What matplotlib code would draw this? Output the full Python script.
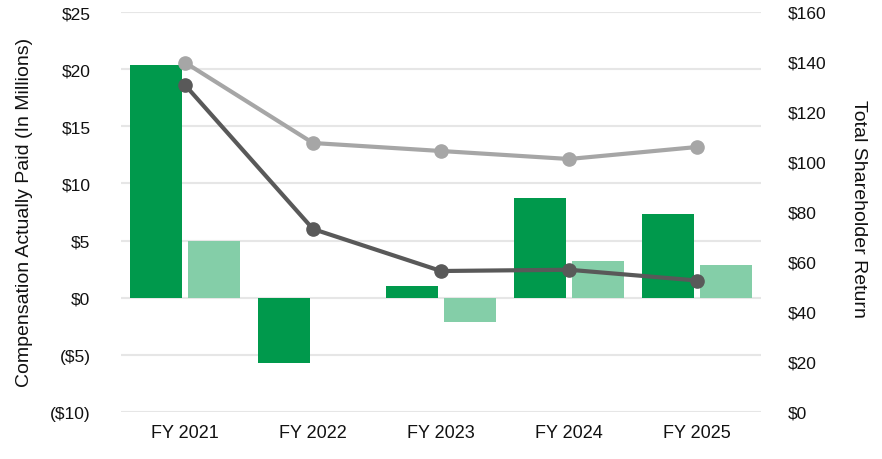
import matplotlib
matplotlib.use("Agg")
import matplotlib.pyplot as plt
import numpy as np

categories = ["FY 2021", "FY 2022", "FY 2023", "FY 2024", "FY 2025"]
cap_peo = [20.4, -5.7, 1.0, 8.7, 7.3]
cap_neo = [5.0, 0.0, -2.15, 3.25, 2.9]
tsr_peer = [139.8, 107.6, 104.4, 101.2, 106.0]
tsr_company = [130.8, 73.2, 56.4, 56.9, 52.6]

left_ticks = [-10, -5, 0, 5, 10, 15, 20, 25]
left_labels = ["($10)", "($5)", "$0", "$5", "$10", "$15", "$20", "$25"]
right_ticks = [0, 20, 40, 60, 80, 100, 120, 140, 160]
right_labels = ["$0", "$20", "$40", "$60", "$80", "$100", "$120", "$140", "$160"]

plt.rcParams['font.family'] = ['Liberation Sans', 'DejaVu Sans']

fig = plt.figure(figsize=(8.82, 4.6), dpi=100)
ax = fig.add_axes([121/882, 1-413/460, 640/882, 400/460])
x = np.arange(len(categories))
w = 0.406
off = 0.225
ax.bar(x - off, cap_peo, width=w, color="#00994C", zorder=2)
ax.bar(x + off, cap_neo, width=w, color="#84CEA8", zorder=2)
ax.set_xlim(-0.5, 4.5)
ax.set_ylim(-10, 25)
ax.set_yticks(left_ticks)
ax.set_yticklabels(left_labels)
ax.set_xticks(x)
ax.set_xticklabels(categories)
ax.grid(axis='y', color="#E6E6E6", linewidth=1.5, zorder=0)
ax.set_axisbelow(True)
for s in ax.spines.values():
    s.set_visible(False)
ax.tick_params(axis='y', length=0, labelsize=12.5, colors="#111111", pad=22)
ax.tick_params(axis='x', length=0, labelsize=13, colors="#111111", pad=9)

ax2 = ax.twinx()
ax2.plot(x, tsr_peer, color="#A6A6A6", linewidth=3, marker='o', markersize=9.5, zorder=3)
ax2.plot(x, tsr_company, color="#595959", linewidth=3, marker='o', markersize=9.5, zorder=3)
ax2.set_ylim(0, 160)
ax2.set_yticks(right_ticks)
ax2.set_yticklabels(right_labels)
for s in ax2.spines.values():
    s.set_visible(False)
ax2.tick_params(axis='y', length=0, labelsize=12.5, colors="#111111", pad=19)

fig.text(25/882, 1-212/460, "Compensation Actually Paid (In Millions)", rotation=90,
         ha='center', va='center', fontsize=14, color="#111111")
fig.text(858/882, 1-209/460, "Total Shareholder Return", rotation=-90,
         ha='center', va='center', fontsize=14, color="#111111")

fig.savefig("out.png", dpi=100)
